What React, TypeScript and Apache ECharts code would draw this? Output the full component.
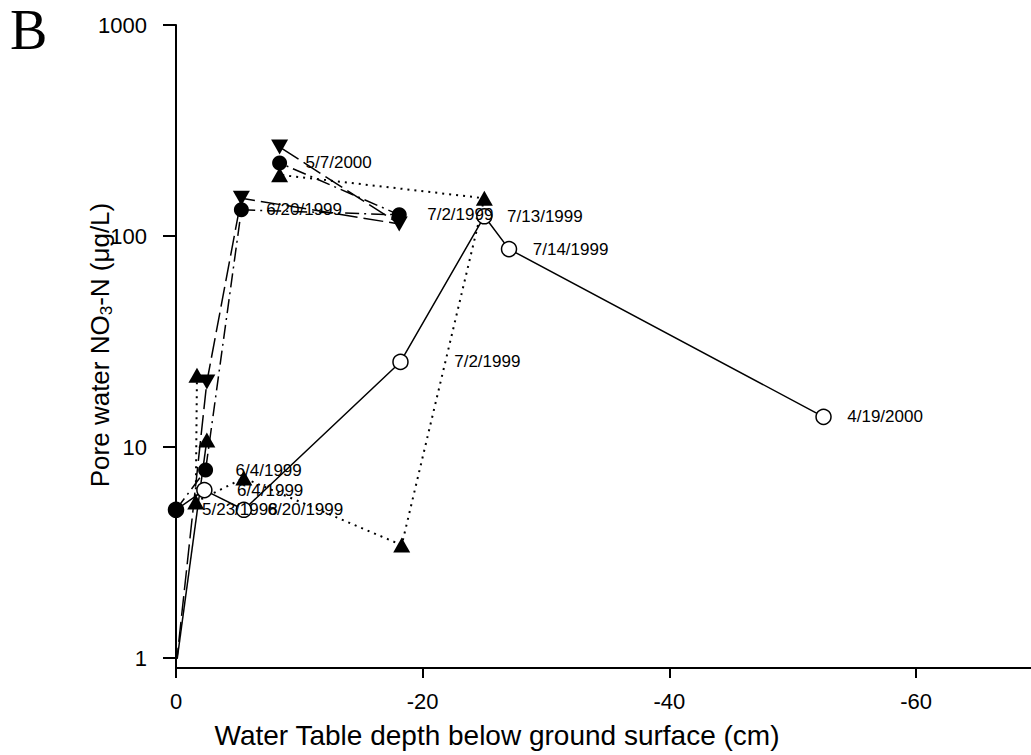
import React, { useEffect, useRef } from 'react';
import * as echarts from 'echarts';

// ---- data ----
const sampleDates = ['5/23/1998', '6/4/1999', '6/20/1999', '7/2/1999', '7/13/1999', '7/14/1999', '4/19/2000', '5/7/2000'];

// open circles, solid line
const openX = [0, -2.3, -5.5, -18.2, -25, -27, -52.5];
const openY = [5.04, 6.25, 5.04, 25.3, 124, 86.7, 13.9];
const openLabels = ['', '6/4/1999', '6/20/1999', '7/2/1999', '7/13/1999', '7/14/1999', '4/19/2000'];

// filled circles, dash-dot line
const filledX = [0, -2.4, -5.3, -18.1, -8.4];
const filledY = [5.04, 7.78, 133, 126, 222];
const filledLabels = ['5/23/1998', '6/4/1999', '6/20/1999', '7/2/1999', '5/7/2000'];

// filled down-triangles, long dash line
const downX = [0, -2.5, -5.3, -18.1, -8.4];
const downY = [0.9, 20.3, 151, 114, 264];

// filled up-triangles, dotted line
const dotX = [-1.7, -1.6, -5.5, -18.3, -25, -8.4];
const dotY = [21.9, 5.49, 7.13, 3.43, 151, 195];

// filled up-triangles, solid line
const upX = [0, -2.5];
const upY = [0.9, 10.8];

const yTicks = [1, 10, 100, 1000];
const xTicks = [0, -20, -40, -60];

// label gaps (px from point centre to text start)
const openGap = [0, 32, 23, 53, 22, 23, 23];
const filledGap = [26, 30, 25, 28, 26];

const FONT = '"Liberation Sans", Arial, Helvetica, sans-serif';

function build(xs: number[], ys: number[], labels?: string[], gaps?: number[]) {
  return xs.map((x, i) => {
    const item: any = { value: [x, ys[i]] };
    if (labels && labels[i]) {
      item.label = {
        show: true,
        formatter: labels[i],
        position: 'right',
        distance: (gaps ? gaps[i] : 24) - 7.5,
      };
    }
    return item;
  });
}

export default function App() {
  const ref = useRef<HTMLDivElement>(null);
  useEffect(() => {
    if (!ref.current) return;
    const chart = echarts.init(ref.current, undefined, { renderer: 'svg' });
    const lbl = { show: false, fontSize: 17, color: '#000', fontFamily: FONT };
    const black = '#000';
    const option: any = {
      animation: false,
      backgroundColor: '#fff',
      grid: { left: 176, top: 25, width: 986.7, height: 633, containLabel: false },
      xAxis: {
        type: 'value',
        inverse: true,
        min: -80,
        max: 0,
        interval: 20,
        offset: 10,
        axisLine: { show: true, onZero: false, lineStyle: { color: black, width: 2 } },
        axisTick: { show: true, inside: false, length: 10, lineStyle: { color: black, width: 2 } },
        axisLabel: { fontSize: 22, color: black, margin: 22, fontFamily: FONT, formatter: (v: number) => (xTicks.includes(v) ? String(v) : '') },
        splitLine: { show: false },
      },
      yAxis: {
        type: 'log',
        logBase: 10,
        min: 1,
        max: 1000,
        axisLine: { show: true, lineStyle: { color: black, width: 2 } },
        axisTick: { show: true, inside: false, length: 13, lineStyle: { color: black, width: 2 } },
        axisLabel: {
          fontSize: 22, color: black, margin: 29, fontFamily: FONT,
          formatter: (v: number) => {
            const r = Math.round(v);
            return yTicks.includes(r) ? String(r) : '';
          },
        },
        splitLine: { show: false },
        minorTick: { show: false },
      },
      series: [
        {
          name: 'up-solid', type: 'line', data: build(upX, upY), symbol: 'triangle', symbolSize: [17, 15],
          showSymbol: true, itemStyle: { color: black }, lineStyle: { color: black, width: 1.5, type: 'solid' },
          label: lbl, emphasis: { disabled: true },
        },
        {
          name: 'up-dotted', type: 'line', data: build(dotX, dotY), symbol: 'triangle', symbolSize: [17, 15],
          showSymbol: true, itemStyle: { color: black }, lineStyle: { color: black, width: 2, type: [2, 5] },
          label: lbl, emphasis: { disabled: true },
        },
        {
          name: 'open', type: 'line', data: build(openX, openY, openLabels, openGap), symbol: 'circle', symbolSize: 15,
          showSymbol: true, itemStyle: { color: '#fff', borderColor: black, borderWidth: 1.5 },
          lineStyle: { color: black, width: 1.5, type: 'solid' }, label: lbl, emphasis: { disabled: true },
        },
        {
          name: 'down', type: 'line', data: build(downX, downY), symbol: 'triangle', symbolRotate: 180, symbolSize: [17, 15],
          showSymbol: true, itemStyle: { color: black }, lineStyle: { color: black, width: 1.5, type: [20, 6] },
          label: lbl, emphasis: { disabled: true },
        },
        {
          name: 'filled', type: 'line', data: build(filledX, filledY, filledLabels, filledGap), symbol: 'circle', symbolSize: 15,
          showSymbol: true, itemStyle: { color: black }, lineStyle: { color: black, width: 1.5, type: [14, 5, 2, 5] },
          label: lbl, emphasis: { disabled: true },
        },
      ],
      graphic: [
        { type: 'line', shape: { x1: 176, y1: 657, x2: 176, y2: 669 }, style: { stroke: black, lineWidth: 2 } },
        {
          type: 'text', x: 10, y: 30,
          style: { text: 'B', font: '56px "Liberation Serif", "Times New Roman", serif', fill: black, align: 'left', verticalAlign: 'middle' },
        },
        {
          type: 'text', x: 497, y: 735,
          style: { text: 'Water Table depth below ground surface (cm)', font: '28px ' + FONT, fill: black, align: 'center', verticalAlign: 'middle' },
        },
        {
          type: 'text', x: 100, y: 345, rotation: Math.PI / 2,
          style: {
            text: '{a|Pore water NO}{s|3}{a|-N (μg/L)}',
            fill: black, align: 'center', verticalAlign: 'middle',
            rich: {
              a: { fontSize: 26, fontFamily: FONT, fill: black, lineHeight: 30, verticalAlign: 'middle' },
              s: { fontSize: 17, fontFamily: FONT, fill: black, lineHeight: 30, verticalAlign: 'bottom' },
            },
          },
        },
      ],
    };
    chart.setOption(option);
    return () => chart.dispose();
  }, []);
  return (
    <div style={{ position: 'absolute', left: 0, top: 0, width: 1031, height: 755, overflow: 'hidden', background: '#fff' }}>
      <div ref={ref} style={{ width: 1200, height: 755 }} />
    </div>
  );
}
